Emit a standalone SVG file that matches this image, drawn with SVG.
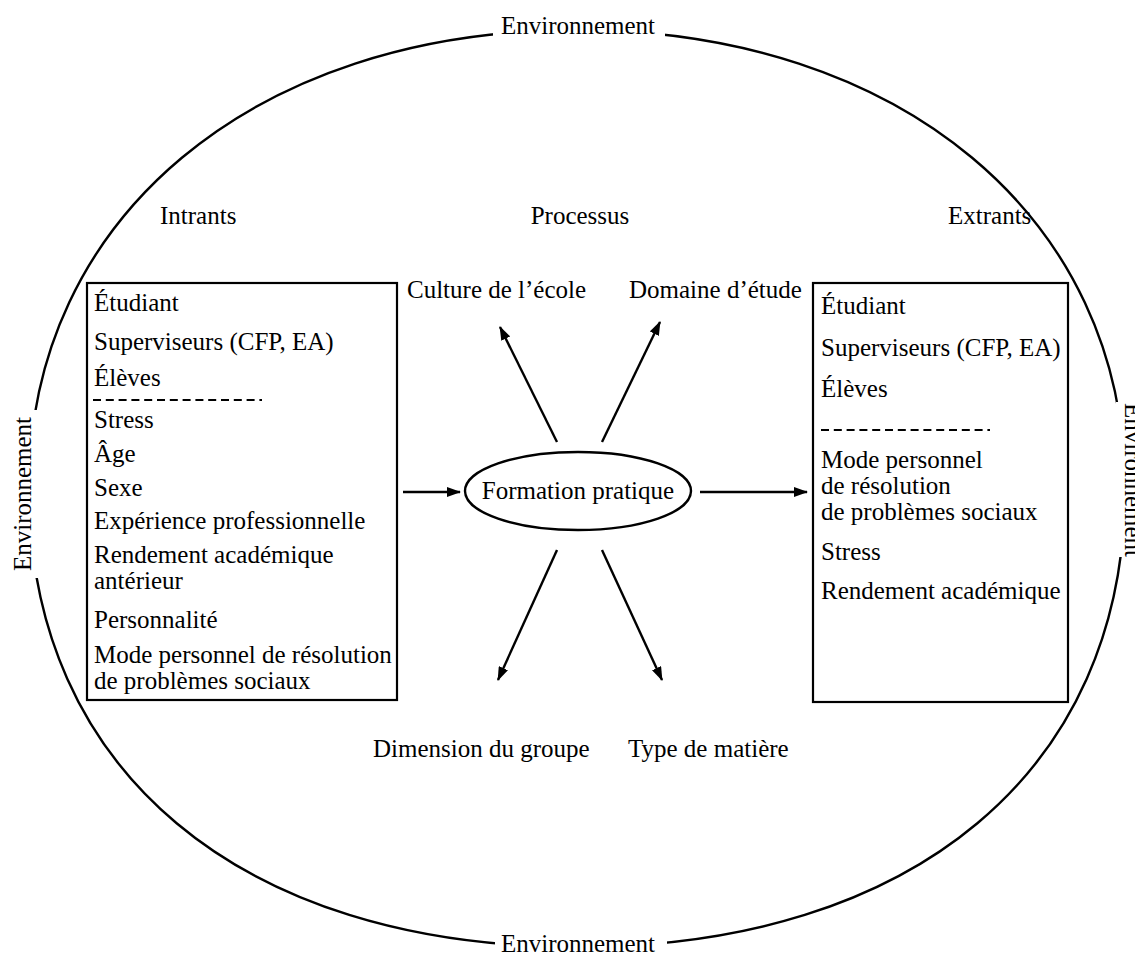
<svg xmlns="http://www.w3.org/2000/svg" width="1135" height="956" viewBox="0 0 1135 956">
<style>
text{font-family:"Liberation Serif","Times New Roman",serif;font-size:25px;fill:#000}
.box{fill:none;stroke:#000;stroke-width:2.2}
.dash{stroke:#000;stroke-width:1.8;stroke-dasharray:8 4.8}
.ln{stroke:#000;stroke-width:2.4;fill:none}
.bg{fill:#fff}
</style>
<defs>
<marker id="ah" viewBox="0 0 14 10" refX="13" refY="5" markerWidth="14" markerHeight="10" markerUnits="userSpaceOnUse" orient="auto">
<path d="M0,0 L14,5 L0,10 z" fill="#000"/>
</marker>
</defs>
<rect width="1135" height="956" fill="#fff"/>
<g id="environnement">
<path class="ln" d="M29,488 C29,218 254,30 577,30 C900,30 1125,218 1125,488 C1125,770 914,947 577,947 C240,947 29,770 29,488 Z"/>
<rect class="bg" x="493" y="12" width="172" height="30"/>
<rect class="bg" x="6" y="410" width="32" height="168"/>
<rect class="bg" x="1116" y="402" width="19" height="155"/>
<rect class="bg" x="495" y="932" width="172" height="24"/>
<text x="578" y="34" text-anchor="middle">Environnement</text>
<text transform="translate(31,494) rotate(-90)" text-anchor="middle">Environnement</text>
<text transform="translate(1125,480) rotate(90)" text-anchor="middle">Environnement</text>
<text x="578" y="952" text-anchor="middle">Environnement</text>
</g>
<g id="headers">
<text x="160" y="224">Intrants</text>
<text x="580" y="224" text-anchor="middle">Processus</text>
<text x="948" y="224">Extrants</text>
</g>
<g id="intrants">
<rect class="box" x="87" y="283" width="310" height="417"/>
<text x="94" y="311">Étudiant</text>
<text x="94" y="350">Superviseurs (CFP, EA)</text>
<text x="94" y="386">Élèves</text>
<line class="dash" x1="93" y1="400" x2="262" y2="400"/>
<text x="94" y="428">Stress</text>
<text x="94" y="462">Âge</text>
<text x="94" y="496">Sexe</text>
<text x="94" y="529">Expérience professionnelle</text>
<text x="94" y="563">Rendement académique</text>
<text x="94" y="589">antérieur</text>
<text x="94" y="628">Personnalité</text>
<text x="94" y="663">Mode personnel de résolution</text>
<text x="94" y="689">de problèmes sociaux</text>
</g>
<g id="formation">
<ellipse class="ln" cx="578" cy="491" rx="113" ry="39"/>
<text x="578" y="499" text-anchor="middle">Formation pratique</text>
</g>
<g id="extrants">
<rect class="box" x="813" y="283" width="255" height="419"/>
<text x="821" y="314">Étudiant</text>
<text x="821" y="356">Superviseurs (CFP, EA)</text>
<text x="821" y="397">Élèves</text>
<line class="dash" x1="821" y1="430" x2="990" y2="430"/>
<text x="821" y="468">Mode personnel</text>
<text x="821" y="494">de résolution</text>
<text x="821" y="520">de problèmes sociaux</text>
<text x="821" y="560">Stress</text>
<text x="821" y="599">Rendement académique</text>
</g>
<g id="culture"><text x="407" y="298">Culture de l’école</text></g>
<g id="domaine"><text x="629" y="298">Domaine d’étude</text></g>
<g id="dimension"><text x="373" y="757">Dimension du groupe</text></g>
<g id="type"><text x="628" y="757">Type de matière</text></g>
<g id="connectors">
<line class="ln" x1="557" y1="442" x2="500" y2="327" marker-end="url(#ah)"/>
<line class="ln" x1="602" y1="442" x2="660" y2="322" marker-end="url(#ah)"/>
<line class="ln" x1="557" y1="550" x2="498" y2="680" marker-end="url(#ah)"/>
<line class="ln" x1="602" y1="550" x2="662" y2="680" marker-end="url(#ah)"/>
<line class="ln" x1="403" y1="492" x2="460" y2="492" marker-end="url(#ah)"/>
<line class="ln" x1="700" y1="492" x2="807" y2="492" marker-end="url(#ah)"/>
</g>
</svg>
